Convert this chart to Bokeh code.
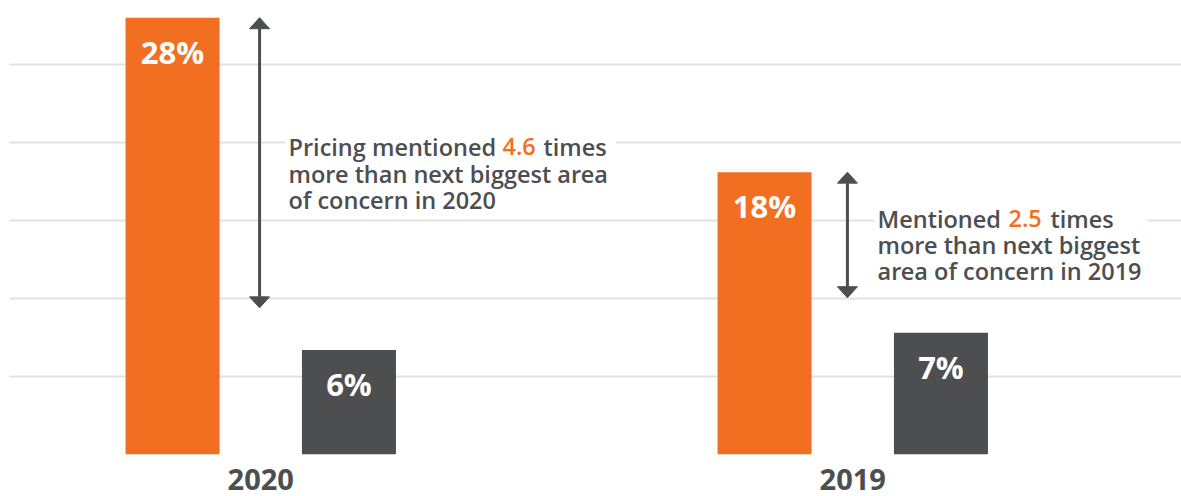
from bokeh.plotting import figure
from bokeh.models import Range1d, FixedTicker, Label, BoxAnnotation, ColumnDataSource
from bokeh.transform import dodge
from bokeh.embed import file_html
from bokeh.resources import INLINE
from bokeh.core.properties import value

# ---------------- data ----------------
years = ["2020", "2019"]
pricing = [28.0, 18.1]          # orange bars (% of mentions)
next_biggest = [6.7, 7.8]       # dark bars (% of mentions)
pricing_labels = ["28%", "18%"]
next_labels = ["6%", "7%"]
multipliers = ["4.6", "2.5"]
grid_ticks = [0, 5, 10, 15, 20, 25]

ORANGE = "#F26F21"
DARK = "#4D4E50"
GRID = "#E1E1E1"
FONT = "Open Sans"
SEMI = "Open Sans SemiBold, Open Sans"

W, H = 1181, 496
FRAME_L, FRAME_B = 9, 454           # frame left / bottom in pixels
PX_PER_X = 592.0
PX_PER_Y = 15.6
X_START = -(260.25 - FRAME_L) / PX_PER_X
X_END = X_START + (W - FRAME_L) / PX_PER_X
Y_END = FRAME_B / PX_PER_Y


def sx(px):
    return X_START + (px - FRAME_L) / PX_PER_X


def sy(py):
    return (FRAME_B - py) / PX_PER_Y


p = figure(width=W, height=H, output_backend="svg", toolbar_location=None,
           x_range=Range1d(X_START, X_END), y_range=Range1d(0, Y_END),
           y_axis_location=None, min_border_left=FRAME_L, min_border_right=0,
           min_border_top=0, min_border_bottom=H - FRAME_B)
p.outline_line_color = None
p.background_fill_color = "white"
p.border_fill_color = "white"

p.xgrid.grid_line_color = None
p.ygrid.ticker = FixedTicker(ticks=grid_ticks)
p.ygrid.grid_line_color = GRID
p.ygrid.grid_line_width = 2

xpos = list(range(len(years)))
src = ColumnDataSource(dict(x=xpos, pricing=pricing, nxt=next_biggest,
                            plab=pricing_labels, nlab=next_labels))
OFF = 0.149
BW = 94 / PX_PER_X

p.vbar(x=dodge("x", -OFF, range=p.x_range), top="pricing", width=BW,
       fill_color=ORANGE, line_color=None, source=src)
p.vbar(x=dodge("x", OFF, range=p.x_range), top="nxt", width=BW,
       fill_color=DARK, line_color=None, source=src)

for col, lab in (("pricing", "plab"), ("nxt", "nlab")):
    p.text(x=dodge("x", -OFF if col == "pricing" else OFF, range=p.x_range), y=col,
           text=lab, source=src, text_align="center", text_baseline="alphabetic",
           y_offset=34, text_color="white", text_font=value(FONT),
           text_font_style="bold", text_font_size="31px")

# x axis: year labels
p.xaxis.ticker = FixedTicker(ticks=xpos)
p.xaxis.major_label_overrides = {i: y for i, y in enumerate(years)}
p.xaxis.axis_line_color = None
p.xaxis.major_tick_line_color = None
p.xaxis.minor_tick_line_color = None
p.xaxis.major_label_standoff = 8
p.xaxis.major_label_text_font = FONT
p.xaxis.major_label_text_font_style = "bold"
p.xaxis.major_label_text_font_size = "29px"
p.xaxis.major_label_text_color = DARK

# arrows spanning the orange bar tops down to a lower level
arrow_x = [xpos[0] - 0.002, xpos[1] - 0.009]
arrow_bottom = [9.4, 10.05]
HW = 10 / PX_PER_X
HL = 11 / PX_PER_Y
p.segment(x0=arrow_x, y0=[t - HL for t in pricing], x1=arrow_x,
          y1=[b + HL for b in arrow_bottom], line_color=DARK, line_width=3)
xs, ys = [], []
for ax, top, bot in zip(arrow_x, pricing, arrow_bottom):
    xs.append([ax - HW, ax, ax + HW]); ys.append([top - HL, top, top - HL])
    xs.append([ax - HW, ax, ax + HW]); ys.append([bot + HL, bot, bot + HL])
p.patches(xs, ys, fill_color=DARK, line_color=DARK, line_width=1)

# annotation texts (white box interrupts the grid lines)
blocks = [
    dict(box=(285, 616, 122, 206), left=288, base=[146, 173, 199],
         first=[("Pricing mentioned", 288, DARK), (multipliers[0], 502, ORANGE),
                ("times", 543, DARK)],
         rest=["more than next biggest area", "of concern in 2020"]),
    dict(box=(874, 1147, 194, 278), left=877, base=[218, 244, 270],
         first=[("Mentioned", 877, DARK), (multipliers[1], 1008, ORANGE),
                ("times", 1050, DARK)],
         rest=["more than next biggest", "area of concern in 2019"]),
]
for b in blocks:
    l, r, t, bt = b["box"]
    p.add_layout(BoxAnnotation(left=sx(l), right=sx(r), top=sy(t), bottom=sy(bt),
                               fill_color="white", fill_alpha=1, line_color=None,
                               level="annotation"))
for b in blocks:
    for txt, px, col in b["first"]:
        p.add_layout(Label(x=sx(px), y=sy(b["base"][0]), text=txt, text_color=col,
                           text_font=SEMI, text_font_size="23.5px",
                           text_font_style="normal", text_baseline="alphabetic"))
    for txt, by in zip(b["rest"], b["base"][1:]):
        p.add_layout(Label(x=sx(b["left"]), y=sy(by), text=txt, text_color=DARK,
                           text_font=SEMI, text_font_size="23.5px",
                           text_font_style="normal", text_baseline="alphabetic"))

open("out.html", "w").write(file_html(p, INLINE))
